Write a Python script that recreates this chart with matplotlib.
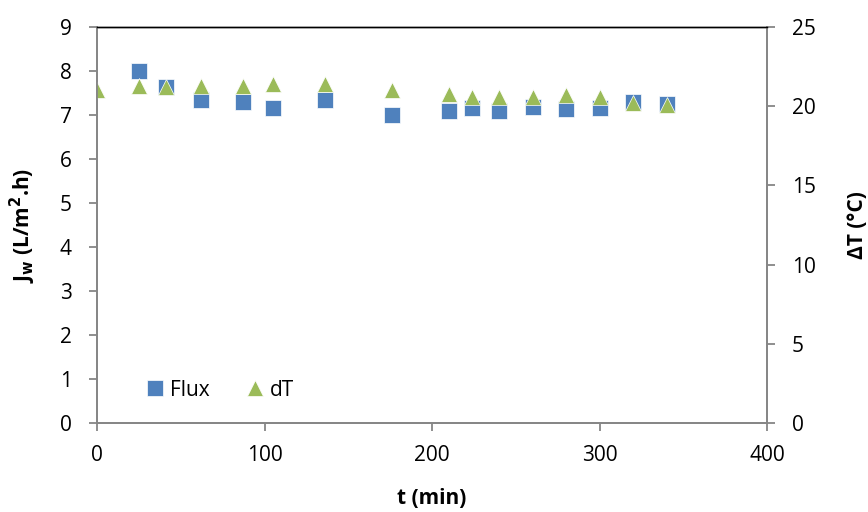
import numpy as np
import matplotlib.pyplot as plt

plt.rcParams['font.family'] = ['Open Sans', 'DejaVu Sans']

# data
t_flux = [25, 41, 62, 87, 105, 136, 176, 210, 224, 240, 260, 280, 300, 320, 340]
flux = [7.99, 7.64, 7.35, 7.30, 7.16, 7.33, 6.99, 7.08, 7.16, 7.10, 7.19, 7.14, 7.15, 7.30, 7.26]
t_dT = [0, 25, 41, 62, 87, 105, 136, 176, 210, 224, 240, 260, 280, 300, 320, 340]
dT = [21.0, 21.3, 21.2, 21.3, 21.3, 21.4, 21.4, 21.0, 20.8, 20.6, 20.6, 20.6, 20.7, 20.6, 20.2, 20.1]

blue = '#4F81BD'
green = '#9BBB59'
gray = '#868686'
fs = 15

fig = plt.figure(figsize=(8.68, 5.12), dpi=100)
ax = fig.add_axes([97/868, 1-423/512, 670/868, 396/512])
ax2 = ax.twinx()

h1, = ax.plot(t_flux, flux, 's', color=blue, ms=11, mec='white', mew=0.5, label='Flux')
h2, = ax2.plot(t_dT, dT, '^', color=green, ms=12, mec='white', mew=0.5, label='dT')

ax.set_xlim(0, 400)
ax.set_ylim(0, 9)
ax2.set_ylim(0, 25)
ax.set_xticks(np.arange(0, 401, 100))
ax.set_yticks(np.arange(0, 10, 1))
ax2.set_yticks(np.arange(0, 26, 5))

for a in (ax, ax2):
    for s in a.spines.values():
        s.set_color(gray)
        s.set_linewidth(1.3)
    a.spines['top'].set_color('black')
    a.spines['top'].set_linewidth(1.0)
    a.tick_params(axis='both', colors=gray, labelcolor='black', labelsize=fs,
                  length=6, width=1.3, direction='out')
ax.tick_params(axis='x', pad=10)
ax.tick_params(axis='y', pad=12)
ax2.tick_params(axis='y', pad=12)

ax.set_xlabel('t (min)', fontsize=fs, fontweight='bold', labelpad=16)
ax.set_ylabel(r'J$_\mathbf{w}$ (L/m$^\mathbf{2}$.h)', fontsize=fs, fontweight='bold', labelpad=16)
ax2.set_ylabel('ΔT (°C)', fontsize=fs, fontweight='bold', rotation=90, labelpad=22)

ax2.legend([h1, h2], ['Flux', 'dT'], ncol=2, frameon=False, fontsize=fs,
           loc='center left', bbox_to_anchor=(0.04, 0.083),
           handletextpad=0.1, columnspacing=1.6, handlelength=1.2)

fig.savefig('out.png', dpi=100)
